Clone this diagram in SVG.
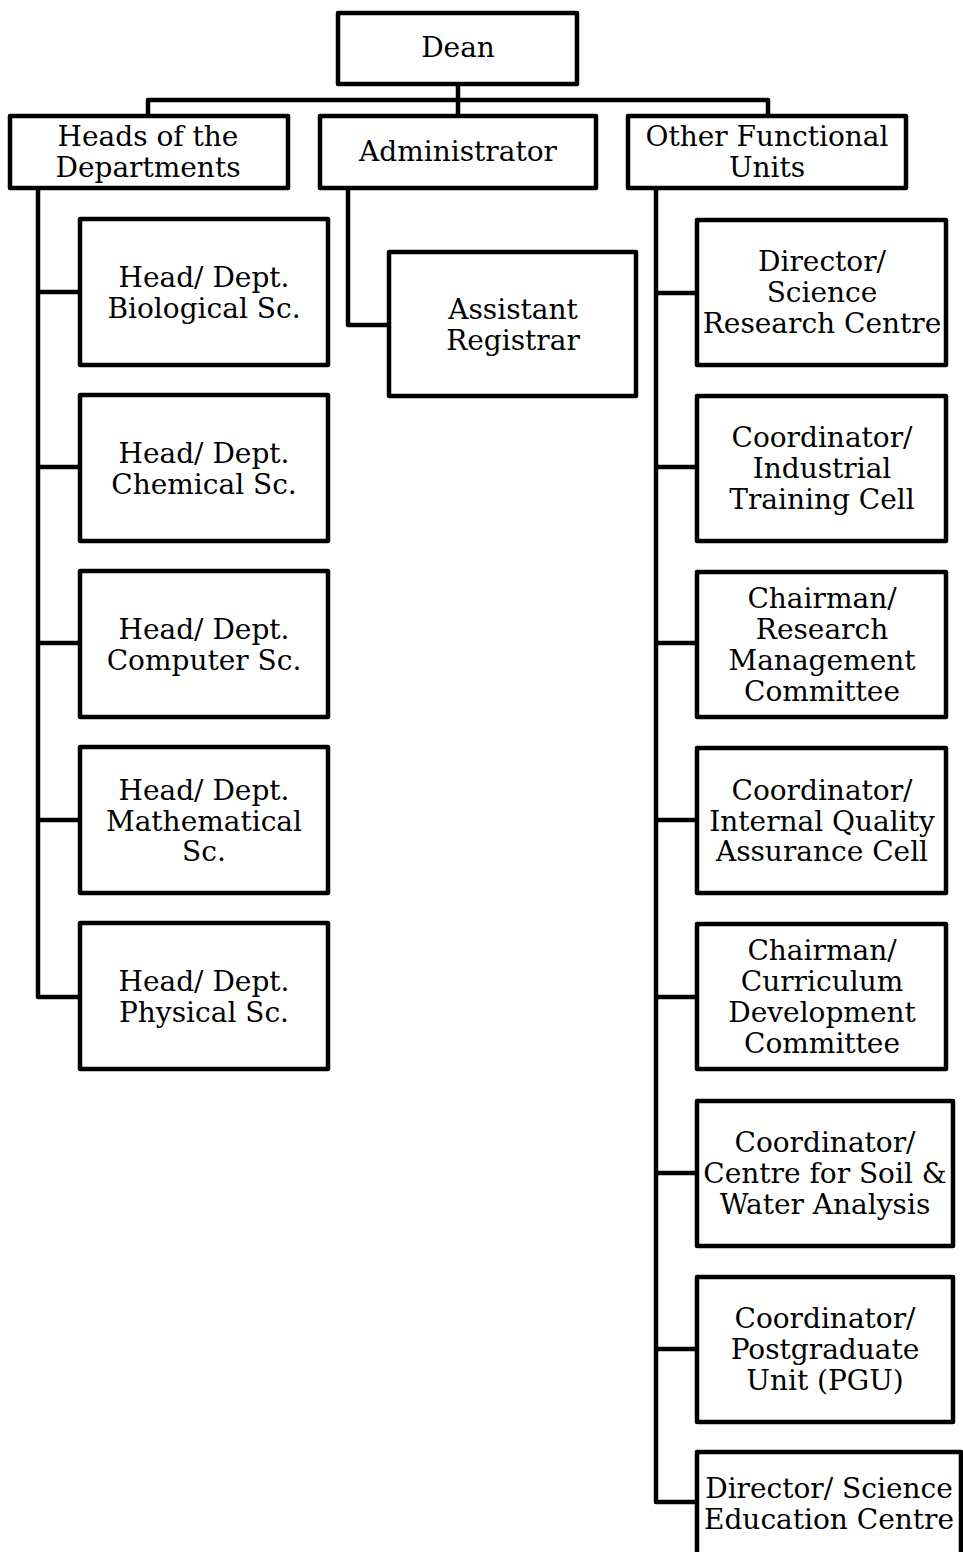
<svg xmlns="http://www.w3.org/2000/svg" width="963" height="1552" viewBox="0 0 963 1552">
<style>
.b{fill:#fff;stroke:#000;stroke-width:4.5;stroke-linejoin:round}
.c{fill:none;stroke:#000;stroke-width:4.5;stroke-linejoin:round}
text{font-family:"DejaVu Serif","Liberation Serif",serif;font-size:28px;fill:#000;text-anchor:middle}
</style>
<rect width="963" height="1552" fill="#fff"/>
<g id="connectors">
<path class="c" d="M458 85V100M148 116V100H768V116M458 100V116"/>
<path class="c" d="M38 189V997H80M38 292H80M38 467H80M38 643H80M38 820H80"/>
<path class="c" d="M348 189V325H389"/>
<path class="c" d="M656 189V1502H697M656 293H697M656 467H697M656 643H697M656 820H697M656 997H697M656 1173H697M656 1349H697"/>
</g>
<g id="dean"><rect class="b" x="338" y="13" width="239" height="71"/><text x="458" y="57">Dean</text></g>
<g id="heads"><rect class="b" x="10" y="116" width="278" height="72"/><text x="148" y="146">Heads of the</text><text x="148" y="177">Departments</text></g>
<g id="admin"><rect class="b" x="320" y="116" width="276" height="72"/><text x="458" y="161">Administrator</text></g>
<g id="other"><rect class="b" x="628" y="116" width="278" height="72"/><text x="767" y="146">Other Functional</text><text x="767" y="177">Units</text></g>
<g id="bio"><rect class="b" x="80" y="219" width="248" height="146"/><text x="204" y="287">Head/ Dept.</text><text x="204" y="318">Biological Sc.</text></g>
<g id="chem"><rect class="b" x="80" y="395" width="248" height="146"/><text x="204" y="463">Head/ Dept.</text><text x="204" y="494">Chemical Sc.</text></g>
<g id="comp"><rect class="b" x="80" y="571" width="248" height="146"/><text x="204" y="639">Head/ Dept.</text><text x="204" y="670">Computer Sc.</text></g>
<g id="math"><rect class="b" x="80" y="747" width="248" height="146"/><text x="204" y="800">Head/ Dept.</text><text x="204" y="831">Mathematical</text><text x="204" y="861">Sc.</text></g>
<g id="phys"><rect class="b" x="80" y="923" width="248" height="146"/><text x="204" y="991">Head/ Dept.</text><text x="204" y="1022">Physical Sc.</text></g>
<g id="ar"><rect class="b" x="389" y="252" width="247" height="144"/><text x="513" y="319">Assistant</text><text x="513" y="350">Registrar</text></g>
<g id="src"><rect class="b" x="697" y="220" width="249" height="145"/><text x="822" y="271">Director/</text><text x="822" y="302">Science</text><text x="822" y="333">Research Centre</text></g>
<g id="itc"><rect class="b" x="697" y="396" width="249" height="145"/><text x="822" y="447">Coordinator/</text><text x="822" y="478">Industrial</text><text x="822" y="509">Training Cell</text></g>
<g id="rmc"><rect class="b" x="697" y="572" width="249" height="145"/><text x="822" y="608">Chairman/</text><text x="822" y="639">Research</text><text x="822" y="670">Management</text><text x="822" y="701">Committee</text></g>
<g id="iqac"><rect class="b" x="697" y="748" width="249" height="145"/><text x="822" y="800">Coordinator/</text><text x="822" y="831">Internal Quality</text><text x="822" y="861">Assurance Cell</text></g>
<g id="cdc"><rect class="b" x="697" y="924" width="249" height="145"/><text x="822" y="960">Chairman/</text><text x="822" y="991">Curriculum</text><text x="822" y="1022">Development</text><text x="822" y="1053">Committee</text></g>
<g id="cswa"><rect class="b" x="697" y="1101" width="256" height="145"/><text x="825" y="1152">Coordinator/</text><text x="825" y="1183">Centre for Soil &amp;</text><text x="825" y="1214">Water Analysis</text></g>
<g id="pgu"><rect class="b" x="697" y="1277" width="256" height="145"/><text x="825" y="1328">Coordinator/</text><text x="825" y="1359">Postgraduate</text><text x="825" y="1390">Unit (PGU)</text></g>
<g id="sec"><rect class="b" x="697" y="1452" width="264" height="110"/><text x="829" y="1498">Director/ Science</text><text x="829" y="1529">Education Centre</text></g>
</svg>
